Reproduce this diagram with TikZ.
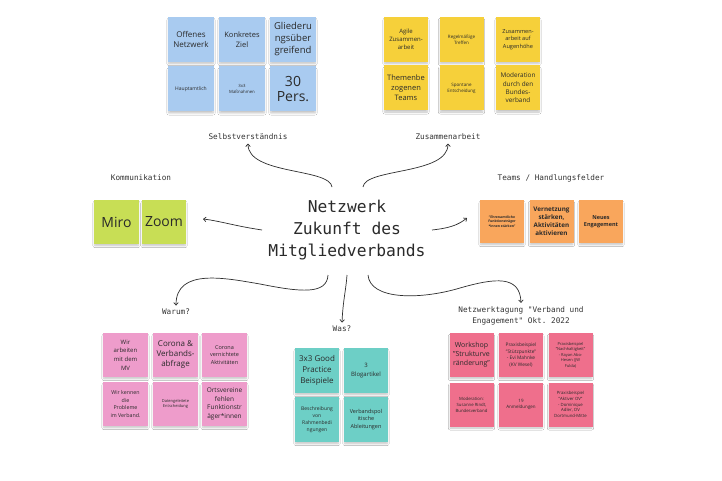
\documentclass[tikz,border=0pt]{standalone}
\usepackage{fontspec}
\setmainfont{Open Sans}
\setmonofont{DejaVu Sans Mono}
\usetikzlibrary{arrows.meta,shadows.blur}
\definecolor{cblue}{HTML}{A9CBF0}
\definecolor{cyellow}{HTML}{F6D03A}
\definecolor{cgreen}{HTML}{C8DE55}
\definecolor{corange}{HTML}{F9A65C}
\definecolor{cpink}{HTML}{EE9CCB}
\definecolor{cteal}{HTML}{6DCFC6}
\definecolor{cred}{HTML}{EF6F8C}
\definecolor{stext}{HTML}{2A2A2A}
\definecolor{ltext}{HTML}{333333}
\definecolor{cline}{HTML}{2E2E2E}
\newcommand\fsz[2]{\fontsize{#1}{#2}\selectfont}
\begin{document}
\begin{tikzpicture}[x=1pt,y=-1pt,
  sticky/.style={minimum width=45pt,minimum height=45pt,inner sep=1pt,align=center,text=stext,
    blur shadow={shadow xshift=0pt,shadow yshift=-2.5pt,shadow opacity=25,shadow blur steps=6,shadow scale=0.96}},
  lbl/.style={font=\ttfamily\fsz{7.7}{11.5},text=ltext,align=center},
  conn/.style={draw=cline,line width=0.7pt,-{Straight Barb[length=2.5pt,width=4.5pt]}}]
\useasboundingbox[fill=white] (0,0) rectangle (722,481);

% title
\node[font=\ttfamily\fsz{16.3}{22},text=stext,align=center] (title) at (347,230) {Netzwerk\\Zukunft des\\Mitgliedverbands};

% labels
\node[lbl] (lSelbst) at (248,137) {Selbstverständnis};
\node[lbl] (lZus) at (448,137) {Zusammenarbeit};
\node[lbl] (lKomm) at (141,178) {Kommunikation};
\node[lbl] (lTeams) at (551,178) {Teams / Handlungsfelder};
\node[lbl] (lWarum) at (176,312) {Warum?};
\node[lbl] (lWas) at (342,329) {Was?};
\node[lbl] (lNetz) at (521,316) {Netzwerktagung "Verband und\\Engagement" Okt. 2022};

% blue
\begin{scope}[every node/.append style={sticky,fill=cblue,minimum width=46pt}]
\node[font=\fsz{8}{10.7}] (b1) at (191,39.5) {Offenes\\Netzwerk};
\node[font=\fsz{7.5}{10.5}] (b2) at (242,39.5) {Konkretes\\Ziel};
\node[font=\fsz{9.5}{12}] (b3) at (293,39.5) {Gliederu\\ngsüber\\greifend};
\node[font=\fsz{5}{6}] (b4) at (191,89) {Hauptamtlich};
\node[font=\fsz{4.3}{6}] (b5) at (242,89) {3x3\\Maßnahmen};
\node[font=\fsz{14}{15.5}] (b6) at (293,89) {30\\Pers.};
\end{scope}

% yellow
\begin{scope}[every node/.append style={sticky,fill=cyellow,minimum width=44pt}]
\node[font=\fsz{6}{7.8}] (y1) at (406,39.5) {Agile\\Zusammen-\\arbeit};
\node[font=\fsz{4.5}{5.8}] (y2) at (461.5,39.5) {Regelmäßige\\Treffen};
\node[font=\fsz{5.6}{7.6}] (y3) at (518,39.5) {Zusammen-\\arbeit auf\\Augenhöhe};
\node[font=\fsz{7.5}{10}] (y4) at (406,88) {Themenbe\\zogenen\\Teams};
\node[font=\fsz{4.5}{6}] (y5) at (461.5,88) {Spontane\\Entscheidung};
\node[font=\fsz{6.4}{8.4}] (y6) at (518,88) {Moderation\\durch den\\Bundes-\\verband};
\end{scope}

% green
\begin{scope}[every node/.append style={sticky,fill=cgreen,minimum height=44pt,font=\fsz{14}{16}}]
\node[minimum width=45pt] (g1) at (116.5,222) {Miro};
\node[minimum width=44pt] (g2) at (164,222) {Zoom};
\end{scope}

% orange
\begin{scope}[every node/.append style={sticky,fill=corange,minimum width=44pt,minimum height=43pt}]
\node[font=\bfseries\fsz{3.4}{4.6}] (o1) at (502,221.5) {"Ehrenamtliche\\Funktionsträger\\*innen stärken"};
\node[font=\bfseries\fsz{6.3}{8}] (o2) at (551.5,221.5) {Vernetzung\\stärken,\\Aktivitäten\\aktivieren};
\node[font=\bfseries\fsz{5.5}{7.2}] (o3) at (601,221.5) {Neues\\Engagement};
\end{scope}

% pink
\begin{scope}[every node/.append style={sticky,fill=cpink,minimum width=45pt,minimum height=44pt}]
\node[font=\fsz{6}{8.6}] (p1) at (125.5,355) {Wir\\arbeiten\\mit dem\\MV};
\node[font=\fsz{8}{10}] (p2) at (175.5,355) {Corona \&\\Verbands-\\abfrage};
\node[font=\fsz{5.5}{7.6}] (p3) at (224.5,355) {Corona\\vernichtete\\Aktivitäten};
\node[font=\fsz{5.3}{7.6}] (p4) at (125.5,404) {Wir kennen\\die\\Probleme\\im Verband.};
\node[font=\fsz{4}{5.8}] (p5) at (175.5,404) {Datengeleitete\\Entscheidung};
\node[font=\fsz{6.5}{8.6}] (p6) at (224.5,404) {Ortsvereine\\fehlen\\Funktionstr\\äger*innen};
\end{scope}

% teal
\begin{scope}[every node/.append style={sticky,fill=cteal,minimum width=44pt,minimum height=45pt}]
\node[font=\fsz{8}{11}] (t1) at (317,370.5) {3x3 Good\\Practice\\Beispiele};
\node[font=\fsz{6}{8.5}] (t2) at (366,370.5) {3\\Blogartikel};
\node[font=\fsz{5}{7}] (t3) at (317,419.5) {Beschreibung\\von\\Rahmenbedi\\ngungen};
\node[font=\fsz{5.5}{7.5}] (t4) at (366,419.5) {Verbandspol\\itische\\Ableitungen};
\end{scope}

% red
\begin{scope}[every node/.append style={sticky,fill=cred,minimum width=44pt,minimum height=44pt}]
\node[font=\fsz{7}{9}] (r1) at (471.5,355) {Workshop\\"Strukturve\\ränderung"};
\node[font=\fsz{4.8}{6.5}] (r2) at (521,355) {Praxisbeispiel\\"Stützpunkte"\\- Evi Mahnke\\(KV Wesel)};
\node[font=\fsz{4}{5.5}] (r3) at (570.5,355) {Praxisbeispiel\\"Nachhaltigkeit"\\- Rayan Abo-\\Hesen (JW\\Fulda)};
\node[font=\fsz{4.3}{6}] (r4) at (471.5,404.5) {Moderation:\\Susanne Rindt,\\Bundesverband};
\node[font=\fsz{4.5}{6}] (r5) at (521,404.5) {19\\Anmeldungen};
\node[font=\fsz{4.3}{5.8}] (r6) at (570.5,404.5) {Praxisbeispiel\\"Aktiver OV"\\- Dominique\\Adler, OV\\Dortmund-Mitte};
\end{scope}

% connector start points on the title
\coordinate (sSelbst) at (332,187);
\coordinate (sZus) at (363,187);
\coordinate (sKomm) at (262,230);
\coordinate (sTeams) at (432,230);
\coordinate (sWarum) at (328,275);
\coordinate (sWas) at (347,275);
\coordinate (sNetz) at (368,275);

\draw[conn] (sSelbst) .. controls (330,168) and (248,175) .. (lSelbst.south);
\draw[conn] (sZus) .. controls (365,168) and (448,175) .. (lZus.south);
\draw[conn] (sKomm) .. controls (235,226) and (220,221) .. (203,219);
\draw[conn] (sTeams) .. controls (450,228) and (458,225) .. (467,218);
\draw[conn] (sWarum) .. controls (327,295) and (300,292) .. (260,284) .. controls (225,278) and (176,268) .. (lWarum.north);
\draw[conn] (sWas) .. controls (346,290) and (343,300) .. (lWas.north);
\draw[conn] (sNetz) .. controls (370,300) and (420,300) .. (460,288) .. controls (495,278) and (520,275) .. (lNetz.north);
\end{tikzpicture}
\end{document}
